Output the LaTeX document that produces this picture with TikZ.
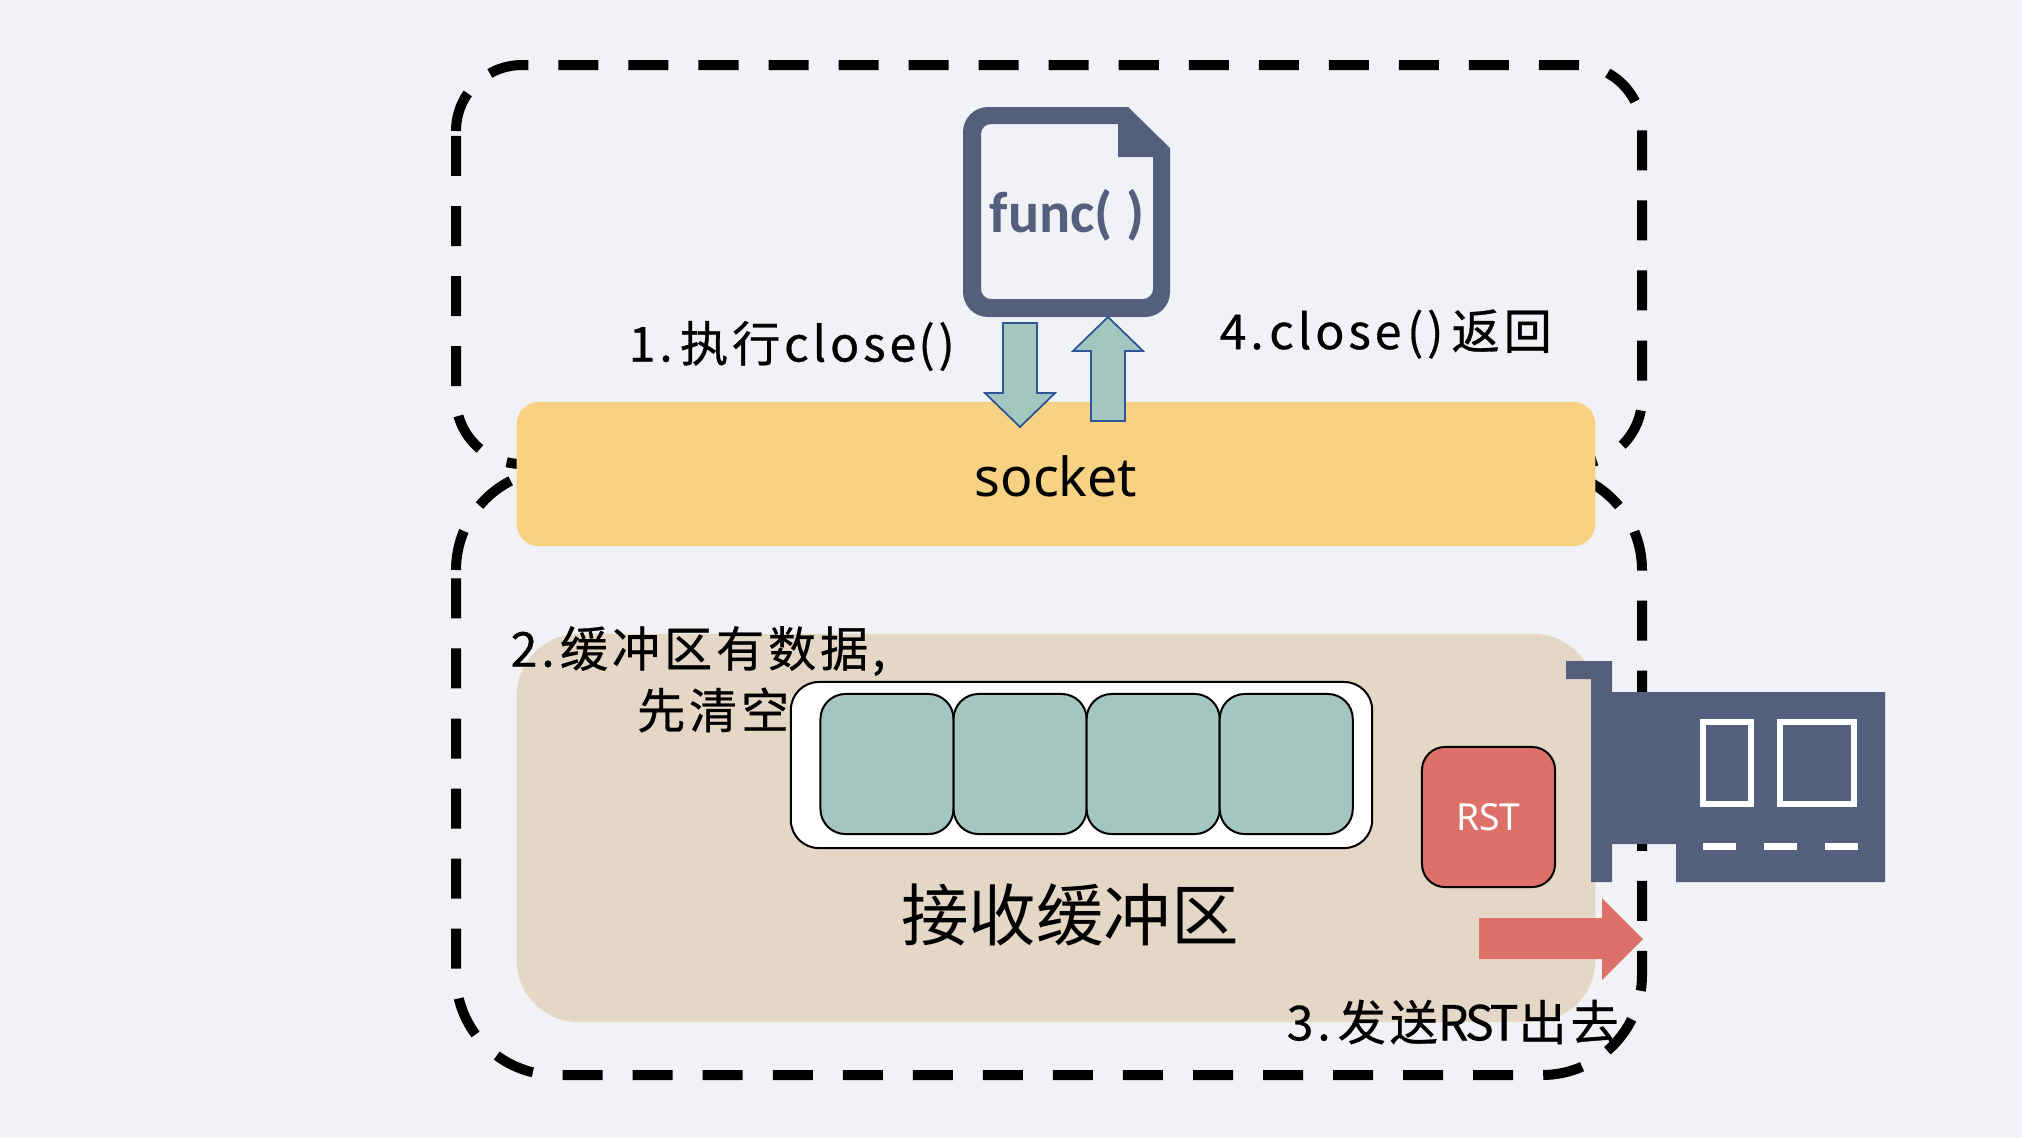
\documentclass[tikz,border=0pt]{standalone}
\usepackage{fontspec}
\usepackage{xcolor}
\setmainfont{Noto Sans}
\newfontfamily\cjkfont{Noto Sans CJK SC}
\newfontfamily\labelfont[LetterSpace=8,FakeBold=0.6]{Noto Sans CJK SC}
\newfontfamily\tightfont[LetterSpace=-6,FakeBold=0.6]{Noto Sans CJK SC}
\newfontfamily\funcfont{Carlito}
\usetikzlibrary{positioning}
\definecolor{bgcol}{RGB}{240,242,245}
\definecolor{navy}{RGB}{84,95,126}
\definecolor{sockcol}{RGB}{247,210,130}
\definecolor{sandcol}{RGB}{229,215,197}
\definecolor{slotcol}{RGB}{163,198,190}
\definecolor{rstcol}{RGB}{221,113,106}
\definecolor{edgecol}{RGB}{47,85,151}

\begin{document}
\begin{tikzpicture}[
    x=0.01cm, y=-0.01cm,
    dashbox/.style={draw=black, line width=0.1cm, dash pattern=on 0.4cm off 0.3cm},
    slot/.style={draw=black, line width=0.02cm, fill=slotcol, rounded corners=0.25cm,
                 minimum width=1.33cm, minimum height=1.4cm, inner sep=0pt},
    panah/.style={draw=edgecol, line width=0.018cm, fill=slotcol, line join=miter},
    teks/.style={inner sep=0pt, anchor=west, font=\labelfont\fontsize{13.7}{16}\selectfont},
    port/.style={draw=white, line width=0.06cm}
  ]
    \fill[bgcol] (0,0) rectangle (2022,1138);
    \useasboundingbox (0,0) rectangle (2022,1138);

    % receive buffer
    \node[fill=sandcol, rounded corners=0.62cm, minimum width=10.78cm, minimum height=3.88cm, inner sep=0pt] (buffer) at (1056,828) {};

    % dashed frames
    \draw[dashbox] (456,131) arc[start angle=180, end angle=270, radius=66] -- (1576,65)
        arc[start angle=270, end angle=360, radius=66] -- (1642,398)
        arc[start angle=0, end angle=90, radius=66] -- (522,464)
        arc[start angle=90, end angle=180, radius=66] -- cycle;
    \draw[dashbox] (456,570) arc[start angle=180, end angle=270, radius=100] -- (1542,470)
        arc[start angle=270, end angle=360, radius=100] -- (1642,975)
        arc[start angle=0, end angle=90, radius=100] -- (556,1075)
        arc[start angle=90, end angle=180, radius=100] -- cycle;

    \node[fill=sockcol, rounded corners=0.22cm, minimum width=10.78cm, minimum height=1.44cm, inner sep=0pt,
          font=\fontsize{15.3}{18}\selectfont] (socket) at (1056,474) {\raisebox{-0.6pt}[\height][\depth]{socket}};

    % slots
    \node[fill=white, draw=black, line width=0.02cm, rounded corners=0.28cm, minimum width=5.81cm, minimum height=1.66cm, inner sep=0pt] (queue) at (1081.5,765) {};
    \node[slot] (slota) at (887,764) {};
    \node[slot, right=-0.02cm of slota] (slotb) {};
    \node[slot, right=-0.02cm of slotb] (slotc) {};
    \node[slot, right=-0.02cm of slotc] (slotd) {};
    \node[font=\cjkfont\fontsize{19.2}{22}\selectfont, inner sep=0pt] (buflabel) at (1070,915) {接收缓冲区};

    \node[fill=rstcol, draw=black, line width=0.02cm, rounded corners=0.23cm, minimum width=1.33cm, minimum height=1.4cm, inner sep=0pt,
          text=white, font=\fontsize{10.6}{13}\selectfont] (rst) at (1488.5,817) {RST};

    % network card
    \fill[navy] (1566,661) -- (1612,661) -- (1612,692) -- (1885,692) -- (1885,882) -- (1676,882) -- (1676,844)
        -- (1612,844) -- (1612,882) -- (1591,882) -- (1591,679) -- (1566,679) -- cycle;
    \draw[port] (1703,722) rectangle (1750.6,804);
    \draw[port] (1779.7,722) rectangle (1854,804);
    \foreach \xa/\xb in {1703/1736, 1764/1797, 1825/1858}
      \fill[white] (\xa,843) rectangle (\xb,850);

    % outgoing arrow
    \fill[rstcol] (1479,918) -- (1602,918) -- (1602,898) -- (1643,939) -- (1602,980) -- (1602,959) -- (1479,959) -- cycle;

    % file icon
    \fill[navy, even odd rule] (1128,107) [rounded corners=0.25cm] -- (963,107) -- (963,317) -- (1170,317) [sharp corners] -- (1170,148) -- cycle
        (1118,124) [rounded corners=0.1cm] -- (981,124) -- (981,299) -- (1153,299) [sharp corners] -- (1153,157) -- (1118,157) -- cycle;
    \node[text=navy, font=\funcfont\bfseries\fontsize{16.5}{19}\selectfont, inner sep=0pt] (func) at (1067,215) {func( )};

    \draw[panah] (1003,323) -- (1037,323) -- (1037,393) -- (1055,393) -- (1020,427) -- (985,393) -- (1003,393) -- cycle;
    \draw[panah] (1108,317) -- (1143,351) -- (1125,351) -- (1125,421) -- (1091,421) -- (1091,351) -- (1073,351) -- cycle;

    % labels
    \node[teks] (stepa) at (628,346) {1.\hspace{2.1pt}执行close\hspace{0.6pt}()};
    \node[teks] (stepd) at (1219,334) {4.\hspace{1.6pt}close\hspace{1.6pt}()\hspace{2.3pt}返回};
    \node[teks] (stepb) at (510,651) {2.\hspace{1.5pt}缓冲区有数据,};
    \node[teks, anchor=east] (stepbb) at (790,710) {先清空};
    \node[teks] (stepc) at (1286,1022) {3.\hspace{2pt}发送{\tightfont RST}出去};
  \end{tikzpicture}
\end{document}
